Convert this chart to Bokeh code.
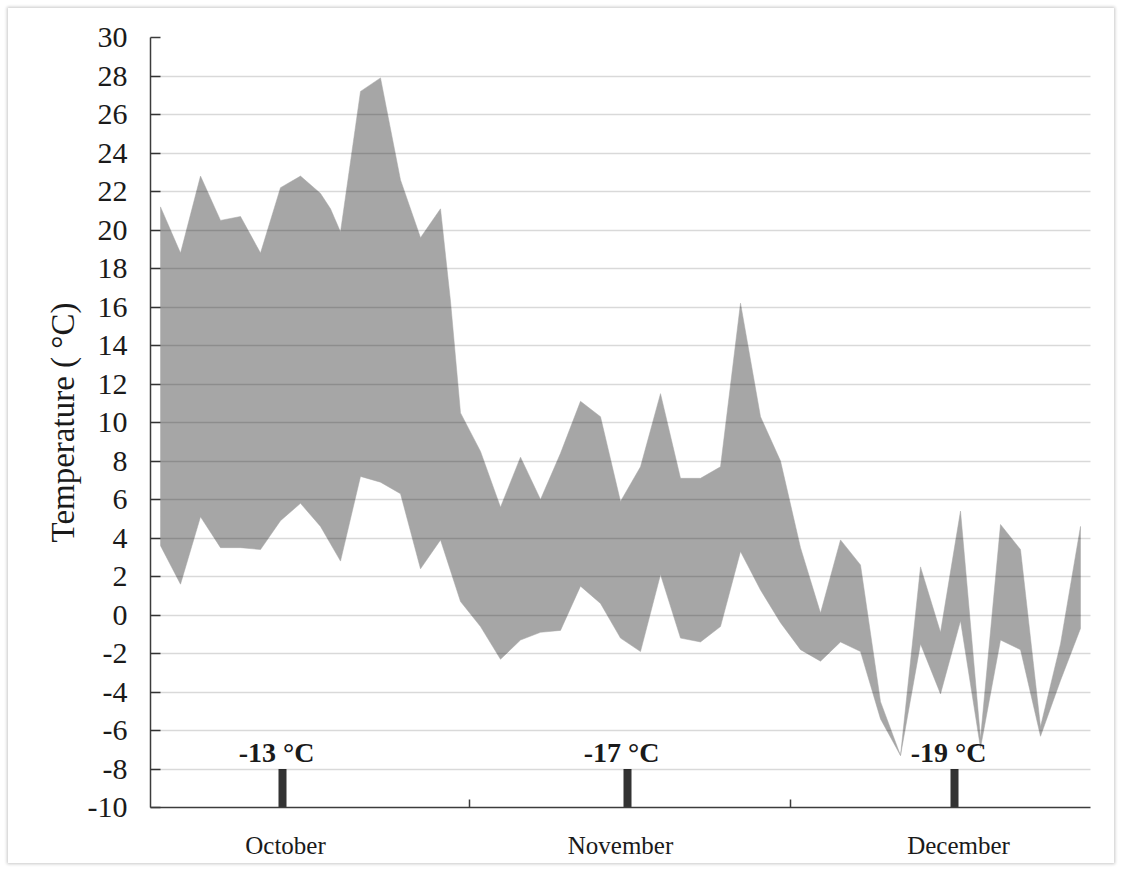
from bokeh.plotting import figure
from bokeh.models import Range1d, FixedTicker
from bokeh.embed import file_html
from bokeh.resources import INLINE
from bokeh.core.properties import value

# ---- data ----
# x = day index along the season axis (Oct -> Dec)
upper_day = [1, 3, 5, 7, 9, 11, 13, 15, 17, 18, 19, 21, 23, 25, 27, 29, 30, 31,
             33, 35, 37, 39, 41, 43, 45, 47, 49, 51, 53, 55, 57, 59, 61, 63, 65,
             67, 69, 71, 73, 75, 77, 79, 81, 83, 85, 87, 89, 91, 93]
upper_temp = [21.2, 18.8, 22.8, 20.5, 20.7, 18.8, 22.2, 22.8, 21.9, 21.1, 19.9,
              27.2, 27.9, 22.6, 19.6, 21.1, 16.3, 10.5,
              8.5, 5.6, 8.2, 6.0, 8.4, 11.1, 10.3, 5.9, 7.7, 11.5, 7.1, 7.1, 7.7,
              16.2, 10.3, 8.0, 3.5,
              0.1, 3.9, 2.6, -4.5, -7.3, 2.5, -0.9, 5.4, -6.4, 4.7, 3.4, -5.8, -1.5, 4.6]

lower_day = [1, 3, 5, 7, 9, 11, 13, 15, 17, 19, 21, 23, 25, 27, 29, 31,
             33, 35, 37, 39, 41, 43, 45, 47, 49, 51, 53, 55, 57, 59, 61, 63, 65,
             67, 69, 71, 73, 75, 77, 79, 81, 83, 85, 87, 89, 91, 93]
lower_temp = [3.6, 1.6, 5.1, 3.5, 3.5, 3.4, 4.9, 5.8, 4.6, 2.8, 7.2, 6.9, 6.3, 2.4, 3.9, 0.7,
              -0.6, -2.3, -1.3, -0.9, -0.8, 1.5, 0.6, -1.2, -1.9, 2.1, -1.2, -1.4, -0.6,
              3.3, 1.3, -0.4, -1.8,
              -2.4, -1.4, -1.9, -5.4, -7.3, -1.5, -4.1, -0.3, -6.9, -1.3, -1.8, -6.3, -3.4, -0.7]

month_names = ["October", "November", "December"]
month_center = [13.5, 47, 80.8]
month_bounds = [31.9, 64]

mark_day = [13.2, 47.7, 80.4]
mark_label = ["-13 \u00b0C", "-17 \u00b0C", "-19 \u00b0C"]
mark_top = -8

y_ticks = list(range(-10, 31, 2))
y_tick_labels = [str(t) for t in y_ticks]
x_start, x_end = 0, 94
y_start, y_end = -10, 30

SERIF = "Liberation Serif"
AXIS_COLOR = "#3c3c3c"
TEXT_COLOR = "#1a1a1a"

p = figure(width=1106, height=855, output_backend="svg", toolbar_location=None,
           x_range=Range1d(x_start, x_end), y_range=Range1d(y_start, y_end),
           min_border_left=142, min_border_right=24, min_border_top=29,
           min_border_bottom=56,
           styles={"margin": "8px", "box-shadow": "0 0 3px 1px #c8c8c8"})
p.outline_line_color = None
p.background_fill_color = "white"
p.border_fill_color = "white"

# band between daily max and min
band_x = upper_day + lower_day[::-1]
band_y = upper_temp + lower_temp[::-1]
p.patch(band_x, band_y, fill_color="#a6a6a6", line_color="#a6a6a6", line_width=0.5)

# minimum-temperature markers
p.vbar(x=mark_day, bottom=y_start, top=mark_top, width=0.8,
       fill_color="#333333", line_color=None)
p.text(x=mark_day, y=[mark_top] * len(mark_day), text=mark_label,
       text_font=value(SERIF), text_font_style="bold", text_font_size="28px",
       text_align="center", text_baseline="bottom", x_offset=-6, y_offset=-1,
       text_color=TEXT_COLOR)

# grid (drawn over the band, semi-transparent)
p.xgrid.visible = False
p.ygrid.ticker = FixedTicker(ticks=y_ticks)
p.ygrid.grid_line_color = "black"
p.ygrid.grid_line_alpha = 0.15
p.ygrid.grid_line_width = 1.5
p.ygrid.level = "overlay"

# y axis
ya = p.yaxis[0]
ya.ticker = FixedTicker(ticks=y_ticks)
ya.major_label_overrides = dict(zip(y_ticks, y_tick_labels))
ya.major_tick_in = 10
ya.major_tick_out = 0
ya.major_tick_line_color = AXIS_COLOR
ya.major_tick_line_width = 1.5
ya.minor_tick_line_color = None
ya.axis_line_color = AXIS_COLOR
ya.axis_line_width = 1.5
ya.major_label_text_font = SERIF
ya.major_label_text_font_size = "30px"
ya.major_label_text_color = TEXT_COLOR
ya.major_label_standoff = 23
ya.axis_label = "Temperature ( \u00b0C)"
ya.axis_label_text_font = SERIF
ya.axis_label_text_font_size = "33px"
ya.axis_label_text_font_style = "normal"
ya.axis_label_text_color = TEXT_COLOR
ya.axis_label_standoff = 4

# x axis: month names at centres, short ticks at month boundaries
xa = p.xaxis[0]
xa.ticker = FixedTicker(ticks=month_center, minor_ticks=month_bounds)
xa.major_label_overrides = {c: n for c, n in zip(month_center, month_names)}
xa.major_tick_line_color = None
xa.major_tick_in = 0
xa.major_tick_out = 0
xa.minor_tick_in = 8
xa.minor_tick_out = 0
xa.minor_tick_line_color = AXIS_COLOR
xa.minor_tick_line_width = 1.5
xa.axis_line_color = AXIS_COLOR
xa.axis_line_width = 1.5
xa.major_label_text_font = SERIF
xa.major_label_text_font_size = "25px"
xa.major_label_text_color = TEXT_COLOR
xa.major_label_standoff = 24

open("out.html", "w").write(file_html(p, INLINE))
